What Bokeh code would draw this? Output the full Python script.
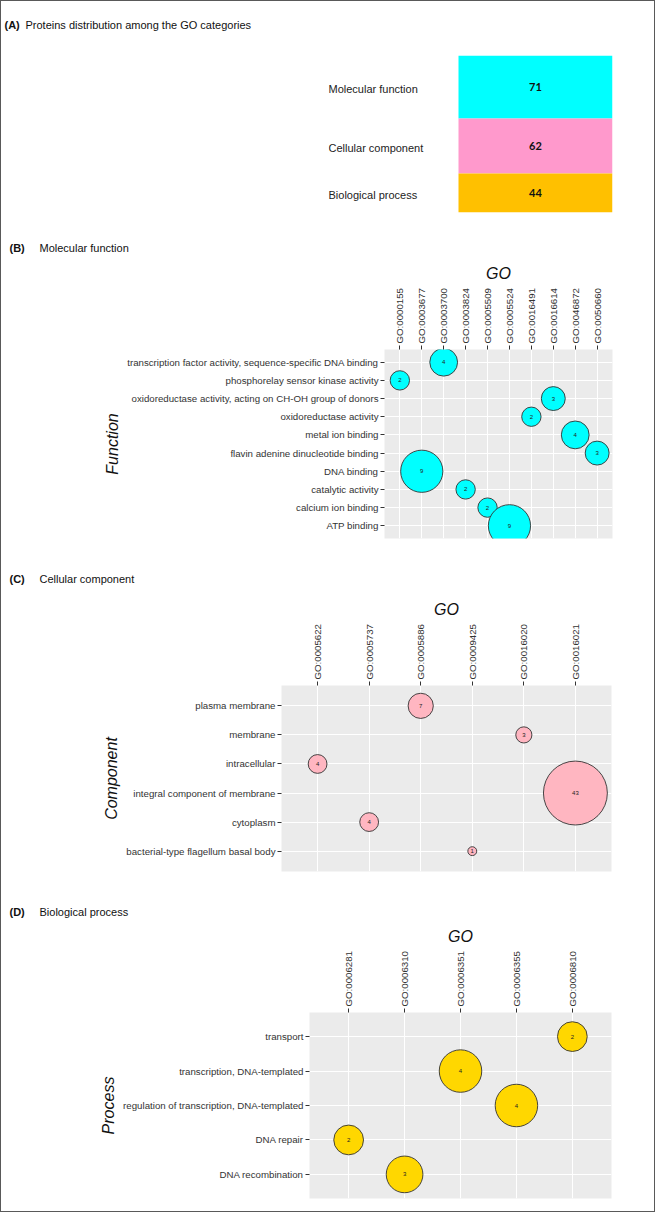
import math
from bokeh.plotting import figure
from bokeh.layouts import column
from bokeh.models import ColumnDataSource, FactorRange, Range1d
from bokeh.core.properties import value
from bokeh.embed import file_html
from bokeh.resources import INLINE

# ---------------- data ----------------
# (A) proteins per GO category
go_categories = ["Molecular function", "Cellular component", "Biological process"]
go_protein_counts = [71, 62, 44]

# (B) Molecular function
mf_terms = [
    "transcription factor activity, sequence-specific DNA binding",
    "phosphorelay sensor kinase activity",
    "oxidoreductase activity, acting on CH-OH group of donors",
    "oxidoreductase activity",
    "metal ion binding",
    "flavin adenine dinucleotide binding",
    "DNA binding",
    "catalytic activity",
    "calcium ion binding",
    "ATP binding",
]
mf_go_ids = ["GO:0000155", "GO:0003677", "GO:0003700", "GO:0003824", "GO:0005509",
             "GO:0005524", "GO:0016491", "GO:0016614", "GO:0046872", "GO:0050660"]
mf_term_go = ["GO:0003700", "GO:0000155", "GO:0016614", "GO:0016491", "GO:0046872",
              "GO:0050660", "GO:0003677", "GO:0003824", "GO:0005509", "GO:0005524"]
mf_counts = [4, 2, 3, 2, 4, 3, 9, 2, 2, 9]

# (C) Cellular component
cc_terms = ["plasma membrane", "membrane", "intracellular",
            "integral component of membrane", "cytoplasm",
            "bacterial-type flagellum basal body"]
cc_go_ids = ["GO:0005622", "GO:0005737", "GO:0005886", "GO:0009425", "GO:0016020", "GO:0016021"]
cc_term_go = ["GO:0005886", "GO:0016020", "GO:0005622", "GO:0016021", "GO:0005737", "GO:0009425"]
cc_counts = [7, 3, 4, 43, 4, 1]

# (D) Biological process
bp_terms = ["transport", "transcription, DNA-templated",
            "regulation of transcription, DNA-templated", "DNA repair", "DNA recombination"]
bp_go_ids = ["GO:0006281", "GO:0006310", "GO:0006351", "GO:0006355", "GO:0006810"]
bp_term_go = ["GO:0006810", "GO:0006351", "GO:0006355", "GO:0006281", "GO:0006310"]
bp_counts = [2, 4, 4, 2, 3]

# ---------------- style ----------------
SANS = "Liberation Sans"
W = 653          # inner width of the framed area
X0 = 9           # page x of the inner area


def no_align(p):
    if "frame_align" in p.properties():
        p.frame_align = False


def header_fig(h, tag, text, cy, tag_x, text_x):
    p = figure(frame_width=W, frame_height=h, x_range=Range1d(0, W), y_range=Range1d(h, 0),
               x_axis_type=None, y_axis_type=None, min_border=0,
               output_backend="svg", toolbar_location=None)
    no_align(p)
    p.outline_line_color = None
    p.text(x=[tag_x - X0], y=[cy], text=[tag], text_font=value(SANS), text_font_size="11px",
           text_font_style="bold", text_color="#111111", text_baseline="middle",
           text_align="left")
    p.text(x=[text_x - X0], y=[cy], text=[text], text_font=value(SANS), text_font_size="11px",
           text_color="#111111", text_baseline="middle", text_align="left")
    return p


# ---------------- panel A ----------------
total = sum(go_protein_counts)
tops, bottoms, mids = [], [], []
acc = total
for c in go_protein_counts:
    tops.append(acc)
    bottoms.append(acc - c)
    mids.append(acc - c / 2)
    acc -= c
srcA = ColumnDataSource(dict(cat=go_categories, n=[str(c) for c in go_protein_counts],
                             top=tops, bottom=bottoms, mid=mids,
                             color=["#00FFFF", "#FF99CC", "#FFC000"]))
A_left, A_fw, A_top, A_fh, A_bottom = 327, 284, 19, 157, 15
bar_w = 154
xrA = Range1d(-(A_fw - bar_w) / bar_w, 1)
pA = figure(frame_width=A_fw, frame_height=A_fh, x_range=xrA, y_range=Range1d(0, total),
            x_axis_type=None, y_axis_type=None, output_backend="svg", toolbar_location=None,
            min_border_left=A_left, min_border_right=W - A_left - A_fw,
            min_border_top=A_top, min_border_bottom=A_bottom)
no_align(pA)
pA.outline_line_color = None
pA.quad(left=0, right=1, bottom="bottom", top="top", fill_color="color",
        line_color=None, source=srcA)
pA.text(x=0.5, y="mid", text="n", source=srcA, text_align="center",
        text_baseline="middle", text_font=value("Lato"), text_font_style="bold",
        text_font_size="11px", text_color="#111111")
pA.text(x=xrA.start, y="mid", text="cat", source=srcA, text_align="left",
        text_baseline="middle", text_font=value(SANS), text_font_size="11px",
        text_color="#222222", y_offset=2)


# ---------------- bubble panels ----------------
def bubble(terms, go_ids, term_go, counts, fill, k, left, fw, top, fh, bottom, ytitle):
    p = figure(frame_width=fw, frame_height=fh,
               x_range=FactorRange(factors=go_ids, range_padding=0.2,
                                   range_padding_units="absolute"),
               y_range=FactorRange(factors=terms[::-1], range_padding=0.2,
                                   range_padding_units="absolute"),
               x_axis_location="above", output_backend="svg", toolbar_location=None,
               min_border_left=left, min_border_right=W - left - fw,
               min_border_top=top, min_border_bottom=bottom)
    no_align(p)
    p.background_fill_color = "#EBEBEB"
    p.border_fill_color = "white"
    p.outline_line_color = None
    p.grid.grid_line_color = "white"
    p.grid.grid_line_width = 1.1
    for ax in (p.xaxis[0], p.yaxis[0]):
        ax.axis_line_color = None
        ax.major_tick_line_color = "#333333"
        ax.major_tick_out = 4
        ax.major_tick_in = 0
        ax.major_label_standoff = 2
        ax.major_label_text_font = SANS
        ax.major_label_text_font_size = "9.7px"
        ax.major_label_text_color = "#333333"
        ax.axis_label_text_font = SANS
        ax.axis_label_text_font_size = "16px"
        ax.axis_label_text_font_style = "italic"
        ax.axis_label_text_color = "#111111"
        ax.axis_label_standoff = 3
    p.xaxis.major_label_orientation = math.pi / 2
    p.xaxis.axis_label = "GO"
    p.yaxis.axis_label = ytitle
    src = ColumnDataSource(dict(go=term_go, term=terms, n=[str(c) for c in counts],
                                size=[k * math.sqrt(c) - 1 for c in counts]))
    p.scatter(x="go", y="term", size="size", source=src, fill_color=fill,
              line_color="#333333", line_width=0.9)
    p.text(x="go", y="term", text="n", source=src, text_align="center",
           text_baseline="middle", text_font=value(SANS), text_font_size="6px",
           text_color="#222222")
    return p


hA = header_fig(35, "(A)", "Proteins distribution among the GO categories", 23, 12, 33)
hB = header_fig(35, "(B)", "Molecular function", 20, 17, 47)
pB = bubble(mf_terms, mf_go_ids, mf_term_go, mf_counts, "#00FFFF", 14.4,
            383, 228, 86, 189, 18, "Function")
hC = header_fig(37, "(C)", "Cellular component", 22, 17, 47)
pC = bubble(cc_terms, cc_go_ids, cc_term_go, cc_counts, "#FFB6C1", 9.9,
            280, 330, 92, 186, 16, "Component")
hD = header_fig(36, "(D)", "Biological process", 24, 17, 47)
pD = bubble(bp_terms, bp_go_ids, bp_term_go, bp_counts, "#FFD700", 21.75,
            308, 302, 89, 186, 13, "Process")

layout = column(hA, pA, hB, pB, hC, pC, hD, pD, spacing=0,
                styles={"border": "1px solid #595959"})
open("out.html", "w").write(file_html(layout, INLINE))
